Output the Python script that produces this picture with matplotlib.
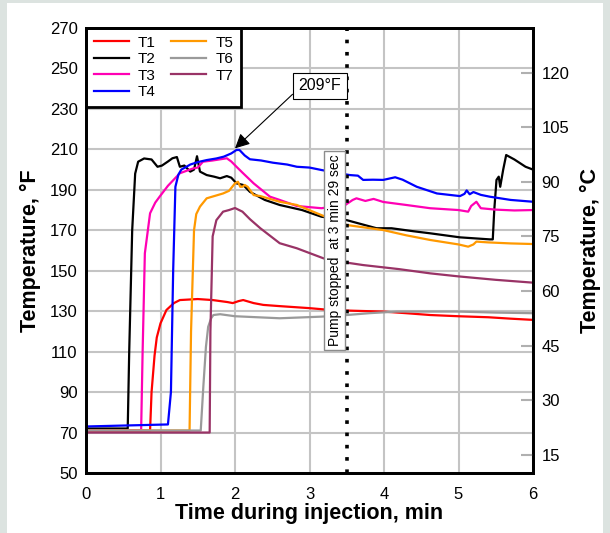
import matplotlib
matplotlib.use("Agg")
import matplotlib.pyplot as plt
from matplotlib.patches import Rectangle

plt.rcParams['font.family'] = ['Liberation Sans', 'DejaVu Sans']

# readings: time (min) and temperature (F)
t1_time = [0, 0.86, 0.88, 0.92, 0.95, 1.0, 1.08, 1.18, 1.26, 1.5, 1.7, 1.9, 1.97, 2.05, 2.11,
           2.25, 2.38, 2.6, 3.0, 3.28, 3.6, 3.99, 4.3, 4.62, 5.0, 5.4, 5.7, 6.0]
t1_temp = [71, 71, 90, 108, 117, 124, 130.6, 134, 135.5, 136, 135.5, 134.5, 134, 135, 135.5,
           134, 133.1, 132.5, 131.5, 130.6, 130.2, 129.8, 129, 128.1, 127.5, 127, 126.3, 125.7]

t2_time = [0, 0.56, 0.58, 0.62, 0.66, 0.70, 0.78, 0.88, 0.96, 1.02, 1.1, 1.16, 1.22, 1.26, 1.32,
           1.4, 1.45, 1.49, 1.53, 1.62, 1.72, 1.8, 1.89, 1.95, 2.02, 2.11, 2.2, 2.4, 2.6, 2.9,
           3.16, 3.5, 3.7, 3.9, 4.1, 4.4, 4.62, 5.02, 5.42, 5.46, 5.48, 5.51, 5.54, 5.56, 5.6,
           5.64, 5.75, 5.9, 6.0]
t2_temp = [72, 72, 110, 170, 198, 203.9, 205.5, 205, 201.4, 202, 204, 205.6, 206.2, 201.4, 202,
           199, 200, 206.6, 199, 197.3, 196.5, 195.7, 196.8, 196, 193.2, 192.4, 189, 185, 182.5, 180,
           176.7, 175, 173, 171, 171, 169.5, 168.5, 166.5, 165.5, 165.5, 180, 194.9, 196.5, 191.5, 200,
           207.2, 205, 201.4, 200]

t3_time = [0, 0.74, 0.76, 0.79, 0.86, 0.93, 0.99, 1.1, 1.26, 1.44, 1.5, 1.57, 1.7, 1.89, 1.95,
           2.02, 2.1, 2.25, 2.47, 2.6, 2.83, 3.16, 3.48, 3.58, 3.63, 3.75, 3.86, 3.99, 4.3, 4.62,
           5.0, 5.13, 5.17, 5.24, 5.3, 5.5, 5.75, 6.0]
t3_temp = [71, 71, 110, 158.6, 178.4, 183.7, 186.7, 192, 198.2, 200.6, 201, 203.9, 204.5, 205.6, 204,
           201.4, 198.5, 193.2, 186.6, 185, 182, 180.9, 182.5, 185, 185.8, 184.5, 185.5, 184, 182.5, 180.9,
           180, 179.2, 182, 184.1, 180.9, 180.2, 179.8, 180]

t4_time = [0, 1.1, 1.14, 1.17, 1.2, 1.24, 1.28, 1.4, 1.5, 1.62, 1.75, 1.85, 1.95, 2.02, 2.06,
           2.13, 2.2, 2.35, 2.51, 2.7, 2.83, 3.0, 3.16, 3.35, 3.54, 3.65, 3.72, 3.85, 3.99, 4.15,
           4.25, 4.44, 4.71, 5.02, 5.08, 5.11, 5.15, 5.2, 5.3, 5.42, 5.7, 6.0]
t4_temp = [73, 74, 90, 150, 191.5, 197.5, 200, 202.5, 203.7, 204.7, 205.5, 206.4, 208, 209.7, 209.7,
           207, 205.1, 204.5, 203.4, 202.5, 201.4, 201, 199.8, 198.5, 197.3, 197, 194.9, 195, 194.9, 196.2,
           195, 191.5, 188.2, 186.9, 188, 189.7, 187.8, 188.9, 187.5, 186.6, 185, 184.1]

t5_time = [0, 1.39, 1.41, 1.45, 1.48, 1.53, 1.62, 1.73, 1.84, 1.92, 2.0, 2.04, 2.07, 2.1, 2.13,
           2.17, 2.25, 2.34, 2.6, 2.83, 3.16, 3.5, 3.99, 4.3, 4.62, 5.0, 5.13, 5.2, 5.24, 5.4,
           5.7, 6.0]
t5_temp = [71, 71, 120, 170, 178, 181.7, 185.8, 187, 188.2, 189.5, 193.2, 194, 191.5, 191.5, 192.4,
           191.5, 187.4, 186.9, 184.1, 182.5, 177.5, 172.6, 170.1, 167.5, 165.2, 163, 161.9, 163, 164.4, 164,
           163.5, 163.2]

t6_time = [0, 1.54, 1.575, 1.61, 1.64, 1.68, 1.71, 1.8, 2.0, 2.3, 2.6, 3.16, 3.5, 3.8, 4.17,
           4.5, 5.0, 5.5, 6.0]
t6_temp = [71, 71, 92.7, 112.4, 122.3, 126.5, 128.1, 128.5, 127.5, 127, 126.5, 127.3, 128.1, 129, 129.8,
           129.8, 129.8, 129.3, 129]

t7_time = [0, 1.66, 1.67, 1.70, 1.75, 1.84, 1.92, 2.0, 2.1, 2.2, 2.34, 2.6, 2.83, 3.19, 3.5,
           3.72, 4.2, 4.62, 5.0, 5.5, 6.0]
t7_temp = [70, 70, 120, 167, 175, 179.2, 180, 181, 179.2, 175.5, 171, 163.6, 161.1, 156.1, 154,
           152.8, 150.8, 148.7, 147.2, 145.5, 144.1]

series_names = ['T1', 'T2', 'T3', 'T4', 'T5', 'T6', 'T7']
series_colors = ['#ff0000', '#000000', '#ff00b4', '#0000ff', '#ff9900', '#9a9a9a', '#993366']
series_data = [(t1_time, t1_temp), (t2_time, t2_temp), (t3_time, t3_temp), (t4_time, t4_temp),
               (t5_time, t5_temp), (t6_time, t6_temp), (t7_time, t7_temp)]

f_ticks = list(range(50, 271, 20))
c_ticks = list(range(15, 121, 15))
pump_stop = 3.5


def f_to_c(f):
    return (f - 32) * 5 / 9


fig = plt.figure(figsize=(6.1, 5.33), dpi=100)
fig.patch.set_facecolor('#dce3e0')
fig.add_artist(Rectangle((7 / 610, 0), 596 / 610, 530 / 533, transform=fig.transFigure,
                         facecolor='white', edgecolor='none', zorder=-10))

ax = fig.add_axes([86 / 610, 60 / 533, 447 / 610, 445 / 533])

for (tt, temp), name, col in zip(series_data, series_names, series_colors):
    ax.plot(tt, temp, color=col, lw=1.6, label=name)

ax.set_xlim(0, 6)
ax.set_ylim(50, 270)
ax.set_yticks(f_ticks)
ax.set_xticks(range(0, 7))
ax.grid(True, color='#c4c4c4', lw=1.5)
ax.set_axisbelow(True)
ax.tick_params(axis='both', length=0, labelsize=12)
ax.tick_params(axis='x', pad=10)
ax.tick_params(axis='y', pad=6)
for sp in ax.spines.values():
    sp.set_linewidth(2)

ax.axvline(pump_stop, color='black', lw=2.6, linestyle=(0, (1, 2.4)), zorder=3)

ax.text(3.34, 160, 'Pump stopped  at 3 min 29 sec', rotation=90, ha='center', va='center',
        fontsize=10, zorder=4,
        bbox=dict(boxstyle='square,pad=0.25', facecolor='white', edgecolor='#8c8c8c', lw=1))

ax.annotate('209°F', xy=(2.0, 210.5), xytext=(3.14, 241.5), ha='center', va='center', fontsize=11.5,
            bbox=dict(boxstyle='square,pad=0.35', facecolor='white', edgecolor='black', lw=0.8),
            arrowprops=dict(arrowstyle='-|>', color='black', lw=0.8, mutation_scale=22,
                            shrinkA=0, shrinkB=0, relpos=(0, 0.3)),
            zorder=5)

leg = ax.legend(ncol=2, loc='upper left', fontsize=11, frameon=True, fancybox=False,
                borderaxespad=0, handlelength=2.3, labelspacing=0.16, columnspacing=1.0,
                handletextpad=0.6, borderpad=0.5)
leg.get_frame().set_edgecolor('black')
leg.get_frame().set_linewidth(2)
leg.get_frame().set_alpha(1)

ax2 = ax.twinx()
ax2.set_ylim(f_to_c(50), f_to_c(270))
ax2.set_yticks(c_ticks)
ax2.tick_params(axis='y', direction='in', length=9, width=1.5, color='#b0b0b0', labelsize=12, pad=6)
for sp in ax2.spines.values():
    sp.set_linewidth(2)

ax.set_xlabel('Time during injection, min', fontsize=15.5, fontweight='bold', labelpad=1)
ax.set_ylabel('Temperature, °F', fontsize=15.5, fontweight='bold', labelpad=6)
ax2.set_ylabel('Temperature, °C', fontsize=15.5, fontweight='bold', labelpad=8)

fig.savefig('out.png', dpi=100)
